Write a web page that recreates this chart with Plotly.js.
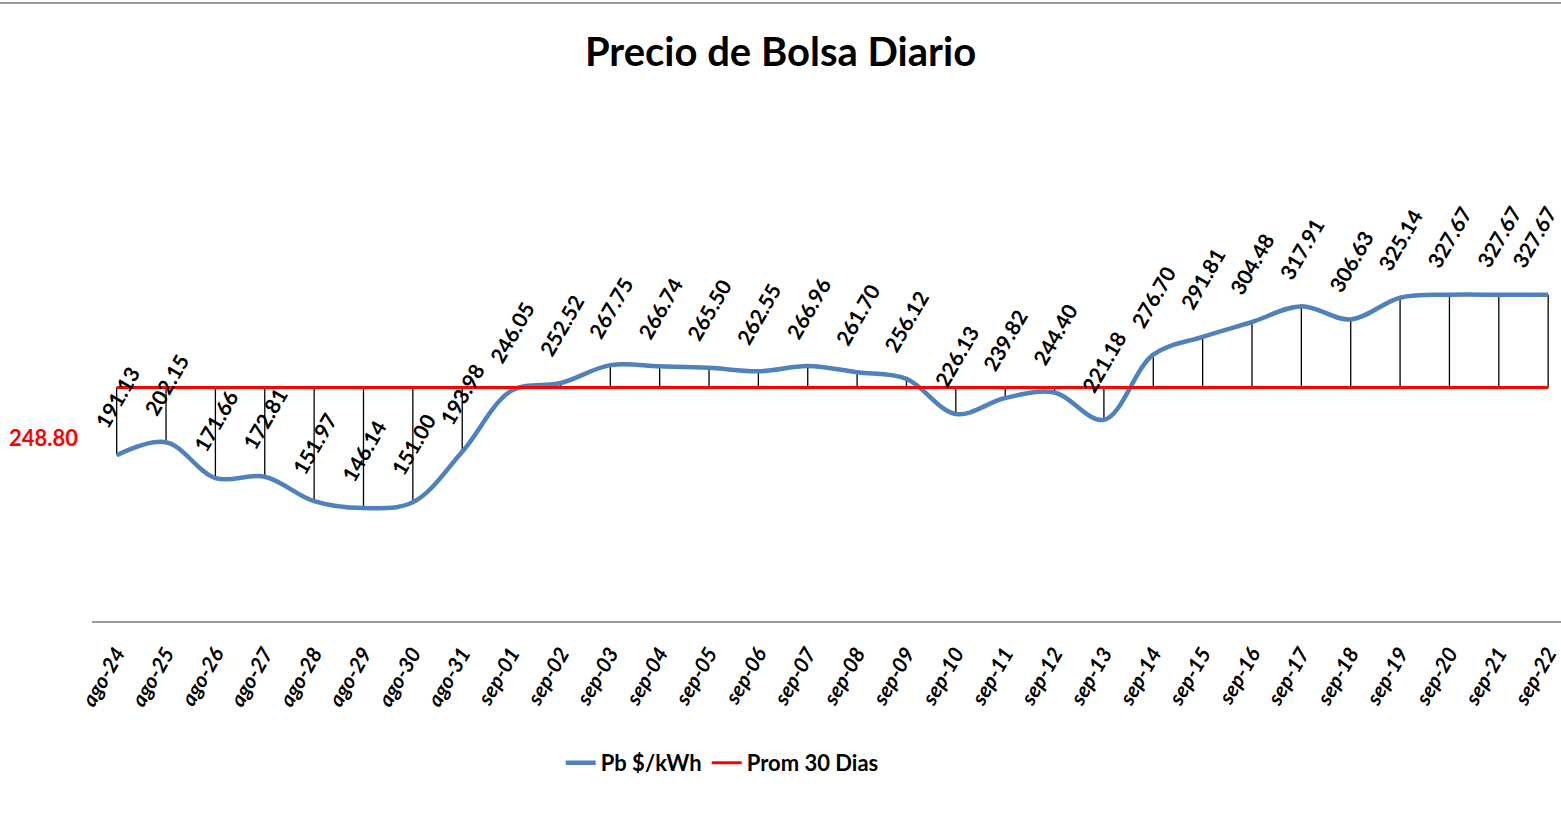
<!DOCTYPE html>
<html>
<head>
<meta charset="utf-8">
<script src="https://cdn.plot.ly/plotly-3.0.1.min.js"></script>
<style>html,body{margin:0;padding:0;overflow:hidden;background:#fff}</style>
</head>
<body>
<div id="chart" style="width:1561px;height:818px"></div>
<script>
const categories = ["ago-24","ago-25","ago-26","ago-27","ago-28","ago-29","ago-30","ago-31",
  "sep-01","sep-02","sep-03","sep-04","sep-05","sep-06","sep-07","sep-08","sep-09","sep-10",
  "sep-11","sep-12","sep-13","sep-14","sep-15","sep-16","sep-17","sep-18","sep-19","sep-20",
  "sep-21","sep-22"];
const precio = [191.13,202.15,171.66,172.81,151.97,146.14,151.00,193.98,246.05,252.52,267.75,
  266.74,265.50,262.55,266.96,261.70,256.12,226.13,239.82,244.40,221.18,276.70,291.81,304.48,
  317.91,306.63,325.14,327.67,327.67,327.67];
const promedio = 248.80;
const promSeries = categories.map(() => promedio);

// drop lines from each point to the average line
const dropX = [], dropY = [];
categories.forEach((c, i) => { dropX.push(c, c, null); dropY.push(precio[i], promedio, null); });

const FONT = "Lato, 'Open Sans', sans-serif";

const traces = [
  {x: dropX, y: dropY, mode: "lines", line: {color: "#000", width: 1.3}, showlegend: false, hoverinfo: "skip"},
  {x: categories, y: precio, name: "Pb $/kWh", mode: "lines",
   line: {color: "#4F81BD", width: 4.5, shape: "spline", smoothing: 1}},
  {x: categories, y: promSeries, name: "Prom 30 Dias", mode: "lines",
   line: {color: "#FF0000", width: 3}}
];

const annotations = categories.map((c, i) => ({
  x: c, y: precio[i], xref: "x", yref: "y", text: precio[i].toFixed(2),
  showarrow: false, textangle: -60, yshift: 58, xshift: i === categories.length - 1 ? -14 : 0,
  xanchor: "center", yanchor: "middle",
  font: {family: FONT, size: 21, color: "#000", weight: 700}
}));
annotations.push({
  xref: "paper", yref: "paper", x: -0.008, y: 0.391, xanchor: "right", yanchor: "middle",
  text: promedio.toFixed(2), showarrow: false,
  font: {family: FONT, size: 22, color: "#FF0000", weight: 700}
});

const layout = {
  width: 1561, height: 818,
  margin: {l: 92, r: 0, t: 151, b: 197},
  paper_bgcolor: "#fff", plot_bgcolor: "#fff",
  title: {text: "Precio de Bolsa Diario", x: 0.5, xref: "container", y: 0.936, yref: "container",
    yanchor: "middle", font: {family: FONT, size: 40, color: "#000", weight: 700}},
  xaxis: {type: "category", range: [-0.5, 29.26], showgrid: false, zeroline: false,
    showline: true, linecolor: "#9a9a9a", linewidth: 2, ticks: "", tickangle: -60,
    ticklabelstandoff: 10,
    tickfont: {family: FONT, size: 21, color: "#000", weight: 700, style: "italic"}},
  yaxis: {range: [50, 450], showgrid: false, zeroline: false, showline: false,
    showticklabels: false, ticks: ""},
  legend: {orientation: "h", x: 0.429, xanchor: "center", y: -0.302, yanchor: "middle",
    font: {family: FONT, size: 22, color: "#000", weight: 700}},
  annotations: annotations,
  shapes: [{type: "line", xref: "paper", yref: "paper", x0: -0.07, x1: 1.01, y0: 1.315, y1: 1.315,
    line: {color: "#999", width: 2}}]
};

Plotly.newPlot("chart", traces, layout, {displayModeBar: false, staticPlot: true});
</script>
</body>
</html>
